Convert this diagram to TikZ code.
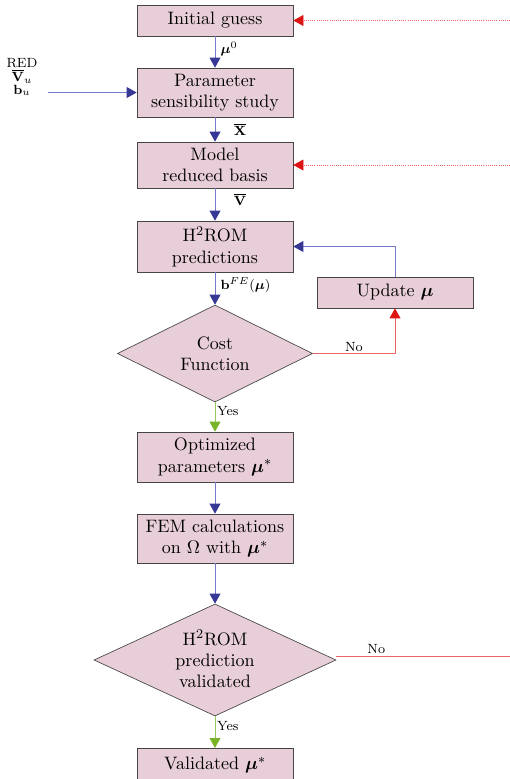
\documentclass[tikz,border=0pt]{standalone}
\usepackage{amsmath,amssymb,bm}
\usetikzlibrary{arrows.meta,shapes.geometric,calc}
\definecolor{boxfill}{RGB}{232,206,216}
\definecolor{boxline}{RGB}{70,70,70}
\definecolor{bluel}{RGB}{120,120,200}
\definecolor{blueh}{RGB}{55,55,150}
\definecolor{redl}{RGB}{236,100,100}
\definecolor{redh}{RGB}{220,20,20}
\definecolor{greenl}{RGB}{150,200,90}
\definecolor{greenh}{RGB}{120,180,40}
\tikzset{
  stepbox/.style={draw=boxline, fill=boxfill, minimum width=93.6pt, align=center, inner sep=2pt, font=\fontsize{10.8}{12.8}\selectfont},
  decbox/.style={draw=boxline, fill=boxfill, shape=diamond, inner sep=0pt},
  dectext/.style={align=center, inner sep=0pt, font=\fontsize{10.8}{12.8}\selectfont},
  blueflow/.style={draw=bluel, line width=0.6pt, -{Triangle[length=6pt,width=6.5pt,fill=blueh,color=blueh]}},
  redflow/.style={draw=redl, line width=0.6pt, -{Triangle[length=6pt,width=6.5pt,fill=redh,color=redh]}},
  reddot/.style={draw=redl, line width=0.4pt, dash pattern=on 0.4pt off 0.9pt, -{Triangle[length=6pt,width=6.5pt,fill=redh,color=redh]}},
  greenflow/.style={draw=greenl, line width=0.6pt, -{Triangle[length=6pt,width=6.5pt,fill=greenh,color=greenh]}},
  lab/.style={font=\footnotesize, inner sep=1pt, text=black}
}
\begin{document}
\begin{tikzpicture}[x=0.6pt,y=-0.6pt]
\useasboundingbox (0,0) rectangle (510,779);
\node[stepbox, minimum height=18.6pt] (init) at (215,20.5) {Initial guess};
\node[stepbox, minimum height=29.4pt] (param) at (215,92.5) {Parameter\\sensibility study};
\node[stepbox, minimum height=27.6pt] (model) at (215,165) {Model\\reduced basis};
\node[stepbox, minimum height=30.6pt] (hrom) at (215,246.5) {H$^2$ROM\\predictions};
\node[stepbox, minimum height=18.6pt] (update) at (395,292.5) {Update $\boldsymbol{\mu}$};
\node[decbox, minimum width=117pt, minimum height=58.2pt] (cost) at (215,353.5) {};
\node[dectext] (costtext) at (cost.center) {Cost\\Function};
\node[stepbox, minimum height=30pt] (opt) at (215,457) {Optimized\\parameters $\boldsymbol{\mu}^{*}$};
\node[stepbox, minimum height=29.4pt] (fem) at (215,538.5) {FEM calculations\\on $\Omega$ with $\boldsymbol{\mu}^{*}$};
\node[decbox, minimum width=145.2pt, minimum height=67.2pt] (valid) at (215,660) {};
\node[dectext] (validtext) at (215,659) {H$^2$ROM\\prediction\\validated};
\node[stepbox, minimum height=20pt, anchor=north] (final) at (215,748) {Validated $\boldsymbol{\mu}^{*}$};

\node[lab, align=center] (inputs) at (22,77) {RED\\[-1pt]$\overline{\mathbf{V}}_u$\\[-2pt]$\mathbf{b}_u$};
\coordinate (inend) at (48,92.5);
\coordinate (r1) at (510,20.5);
\coordinate (r2) at (510,165);
\coordinate (r3) at (510,656);

\draw[blueflow] (init) -- node[lab, right, xshift=2pt, pos=0.4] {$\boldsymbol{\mu}^{0}$} (param);
\draw[blueflow] (inend) -- (param);
\draw[blueflow] (param) -- node[lab, right, xshift=10pt, pos=0.5] {$\overline{\mathbf{X}}$} (model);
\draw[blueflow] (model) -- node[lab, right, xshift=10pt, pos=0.35] {$\overline{\mathbf{V}}$} (hrom);
\draw[blueflow] (hrom) -- node[lab, right, xshift=2pt, pos=0.4] {$\mathbf{b}^{FE}(\boldsymbol{\mu})$} (cost);
\draw[blueflow] (update.north) |- (hrom.east);
\draw[redflow] (cost.east) -| node[lab, above, pos=0.25] {No} (update.south);
\draw[greenflow] (cost) -- node[lab, right, pos=0.3] {Yes} (opt);
\draw[blueflow] (opt) -- (fem);
\draw[blueflow] (fem) -- (valid);
\draw[greenflow] (valid) -- node[lab, right, pos=0.3] {Yes} (final);
\draw[redl, line width=0.6pt] (valid.east |- r3) -- node[lab, above, pos=0.23] {No} (r3);
\draw[reddot] (r1) -- (init);
\draw[reddot] (r2) -- (model);
\end{tikzpicture}
\end{document}
